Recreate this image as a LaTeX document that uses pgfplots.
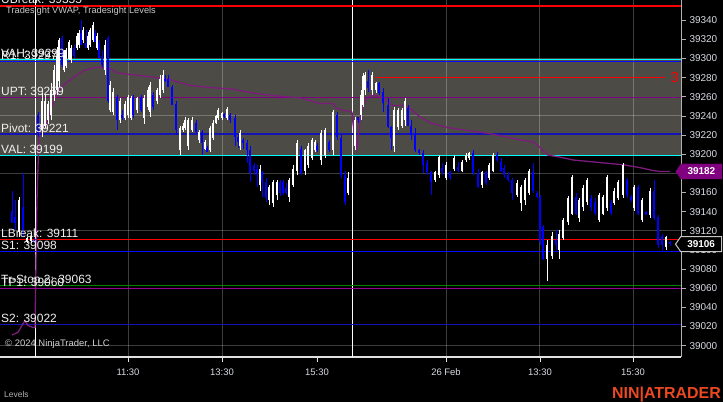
\documentclass[border=0pt]{standalone}
\usepackage{pgfplots}
\pgfplotsset{compat=1.18}
\usepackage{pgfplotstable}
\usepackage{fontspec}
\setmainfont{Liberation Sans}
\usetikzlibrary{shapes.symbols}

\definecolor{bandgray}{RGB}{77,75,69}
\definecolor{ntblue}{RGB}{10,10,255}
\definecolor{pivblue}{RGB}{20,20,180}
\definecolor{ntpurple}{RGB}{128,0,128}
\definecolor{vwapc}{RGB}{125,28,125}
\definecolor{tpc}{RGB}{150,0,150}
\definecolor{ntgreen}{RGB}{0,128,0}
\definecolor{ntcyan}{RGB}{0,255,255}
\definecolor{ntred}{RGB}{255,0,0}
\definecolor{ticktext}{RGB}{215,218,225}
\definecolor{logo}{RGB}{235,72,35}
\definecolor{candleblue}{RGB}{0,0,255}

\pgfplotstableread{
x hi lo top bot
19 39155 39113 39152 39119
27 39113 39107 39112 39108
31 39117 39107 39115 39109
42 39264 39218 39256 39225
45 39262 39227 39256 39230
48 39256 39232 39253 39236
51 39274 39236 39267 39241
54 39293 39256 39288 39262
57 39312 39262 39303 39267
59 39322 39270 39319 39277
64 39309 39286 39307 39288
66 39311 39290 39309 39292
69 39319 39298 39317 39300
71 39314 39295 39311 39298
77 39327 39309 39324 39311
79 39330 39311 39327 39314
83 39333 39316 39330 39319
88 39328 39309 39324 39311
90 39332 39312 39330 39314
93 39338 39317 39335 39319
97 39327 39309 39324 39311
105 39319 39283 39314 39288
110 39277 39244 39272 39246
113 39269 39241 39265 39244
120 39259 39233 39256 39236
125 39256 39236 39253 39238
128 39262 39238 39260 39241
131 39261 39236 39259 39238
137 39260 39243 39259 39246
144 39262 39232 39259 39238
148 39270 39246 39267 39249
150 39275 39239 39272 39244
157 39269 39253 39267 39256
160 39283 39259 39279 39262
163 39288 39264 39283 39267
180 39230 39199 39227 39204
183 39233 39223 39230 39225
185 39239 39225 39236 39227
188 39238 39204 39236 39209
192 39239 39223 39236 39225
199 39225 39212 39223 39215
205 39215 39204 39213 39206
210 39230 39202 39227 39204
213 39236 39215 39233 39217
216 39241 39232 39240 39233
218 39248 39236 39246 39238
222 39244 39236 39243 39238
227 39249 39236 39247 39238
240 39225 39204 39222 39209
260 39189 39162 39185 39168
269 39168 39147 39166 39152
273 39173 39145 39171 39149
277 39173 39152 39171 39157
289 39175 39150 39173 39155
293 39189 39166 39185 39168
297 39215 39178 39212 39183
305 39206 39178 39204 39183
308 39212 39186 39209 39189
312 39217 39194 39215 39196
315 39215 39202 39213 39204
321 39225 39189 39222 39194
325 39227 39196 39225 39199
333 39246 39199 39244 39204
348 39181 39157 39175 39159
355 39239 39204 39236 39209
361 39267 39236 39262 39241
363 39285 39249 39282 39251
365 39286 39262 39283 39267
372 39286 39262 39283 39267
376 39275 39264 39274 39267
394 39249 39202 39246 39209
398 39248 39225 39246 39228
402 39248 39227 39246 39230
405 39259 39230 39256 39236
435 39183 39171 39181 39173
439 39199 39175 39197 39178
446 39192 39173 39189 39175
454 39199 39183 39196 39185
462 39194 39181 39192 39183
466 39201 39192 39199 39194
469 39202 39194 39201 39196
482 39183 39165 39181 39168
489 39191 39173 39189 39175
493 39201 39181 39199 39183
517 39173 39155 39170 39157
521 39168 39141 39166 39149
525 39175 39147 39173 39152
529 39185 39157 39183 39160
547 39110 39068 39105 39091
552 39119 39091 39115 39094
559 39121 39091 39117 39100
563 39133 39110 39131 39112
568 39156 39126 39154 39129
572 39178 39136 39176 39138
579 39154 39129 39152 39133
583 39168 39141 39165 39145
587 39175 39147 39173 39150
599 39159 39129 39157 39131
603 39157 39136 39155 39138
607 39178 39141 39176 39144
614 39165 39147 39162 39149
618 39173 39152 39171 39154
623 39191 39154 39189 39157
634 39168 39141 39166 39144
642 39154 39129 39152 39131
650 39165 39133 39162 39136
666 39115 39100 39113 39103
}\upbars

\pgfplotstableread{
x hi lo top bot
12 39162 39128 39141 39128
15 39152 39121 39134 39128
23 39180 39113 39145 39121
34 39112 39107 39110 39108
38 39244 39218 39241 39222
62 39324 39291 39321 39293
74 39314 39301 39311 39303
81 39340 39314 39327 39314
86 39330 39311 39316 39311
95 39330 39317 39327 39317
99 39319 39301 39316 39301
102 39309 39291 39303 39293
108 39324 39254 39321 39256
117 39262 39225 39260 39236
122 39246 39236 39241 39238
133 39262 39238 39260 39241
141 39262 39244 39260 39246
153 39265 39246 39262 39249
165 39283 39275 39279 39277
168 39283 39270 39279 39270
172 39272 39251 39270 39251
176 39256 39220 39253 39225
196 39236 39222 39233 39223
202 39225 39199 39223 39212
207 39209 39202 39207 39202
224 39243 39238 39242 39239
230 39243 39233 39241 39236
235 39241 39209 39238 39218
238 39220 39207 39218 39213
243 39217 39206 39215 39212
247 39215 39191 39212 39204
250 39209 39171 39204 39180
254 39191 39178 39189 39183
257 39189 39166 39185 39180
262 39183 39155 39181 39171
266 39175 39150 39171 39154
280 39173 39156 39171 39159
283 39173 39157 39171 39159
286 39170 39157 39165 39159
301 39209 39178 39206 39180
317 39212 39202 39209 39204
329 39215 39202 39213 39204
337 39244 39215 39241 39218
341 39220 39175 39217 39178
345 39183 39147 39178 39150
358 39239 39233 39239 39236
368 39288 39265 39277 39269
379 39275 39262 39274 39264
383 39269 39244 39265 39254
388 39259 39227 39251 39228
391 39230 39204 39228 39217
408 39251 39230 39248 39230
411 39236 39215 39230 39220
415 39227 39202 39220 39204
419 39206 39199 39204 39201
423 39204 39180 39201 39189
427 39194 39178 39191 39181
431 39183 39157 39181 39171
442 39191 39178 39186 39181
450 39183 39173 39181 39175
458 39192 39181 39187 39183
473 39204 39178 39201 39180
478 39185 39165 39180 39166
486 39183 39168 39181 39170
497 39202 39192 39199 39194
501 39196 39181 39192 39183
504 39189 39175 39186 39178
508 39181 39171 39178 39173
512 39175 39152 39173 39159
533 39191 39160 39181 39162
537 39162 39154 39160 39155
540 39157 39105 39155 39108
543 39126 39089 39124 39091
556 39121 39100 39110 39105
576 39159 39136 39155 39138
591 39157 39141 39154 39145
595 39154 39136 39150 39139
611 39152 39136 39149 39139
627 39175 39154 39173 39157
631 39157 39150 39155 39152
638 39168 39136 39166 39138
646 39141 39136 39140 39137
654 39173 39131 39162 39133
658 39136 39102 39134 39105
662 39117 39100 39115 39105
670 39109 39104 39108 39106
}\downbars

\pgfplotstableread{
x p
12 39011
18 39014
22 39021
25 39026
28 39021
33 39019
35 39019
37 39152
39 39222
42 39227
47 39232
50 39244
53 39253
58 39267
62 39271
67 39275
77 39283
85 39288
92 39290
100 39291
107 39290
113 39288
117 39285
133 39283
150 39281
163 39279
170 39278
180 39275
190 39272
207 39270
220 39269
233 39268
253 39264
267 39262
287 39260
300 39259
320 39253
333 39253
337 39248
343 39246
350 39245
352 39244
353 39232
355 39218
357 39206
358 39218
360 39236
363 39252
368 39260
373 39262
380 39260
387 39256
393 39251
403 39251
410 39248
420 39239
430 39233
447 39228
467 39225
487 39222
507 39218
520 39215
533 39213
540 39207
548 39199
560 39197
573 39194
593 39192
623 39189
640 39186
653 39183
660 39182
670 39182
}\vwapdata

\newcommand{\lvl}[3][1.3bp]{\draw[#2, line width=#1] (axis cs:0,#3) -- (axis cs:681,#3);}
\newcommand{\lvltext}[2]{\node[anchor=base west, inner sep=0pt, text=white!94!black, font=\fontsize{12}{14}\selectfont] at (axis cs:1,#1) [yshift=2bp] {#2};}
\pgfplotsset{candle/.style={only marks, mark=*, mark size=0pt, mark options={draw=none, fill=none}, forget plot,
  error bars/.cd, y dir=minus, y explicit, error mark=none}}

\begin{document}
\begin{tikzpicture}
\fill[black] (0bp,0bp) rectangle (723bp,402bp);
\useasboundingbox (0bp,0bp) rectangle (723bp,402bp);
\begin{axis}[
  at={(0bp,45bp)}, anchor=south west,
  scale only axis, width=681bp, height=357bp,
  xmin=0, xmax=681, ymin=38988.1, ymax=39361.2,
  clip=false,
  axis x line*=bottom, axis y line*=right,
  x axis line style={draw=white!88!black, line width=1.2bp, -},
  y axis line style={draw=white!70!black, line width=1bp, -},
  scaled y ticks=false,
  /pgf/number format/assume math mode=true,
  /pgf/number format/1000 sep={},
  ytick={39000,39020,39040,39060,39080,39100,39120,39140,39160,39180,39200,39220,39240,39260,39280,39300,39320,39340},
  xtick={128,222,317,446,540,633},
  xticklabels={11:30,13:30,15:30,26 Feb,13:30,15:30},
  tick align=outside,
  major tick length=5bp,
  ytick style={draw=white!70!black, line width=0.8bp},
  xtick style={draw=white!88!black, line width=0.8bp},
  yticklabel style={text=ticktext, font=\fontsize{10}{12}\selectfont, anchor=west, xshift=0bp},
  xticklabel style={text=ticktext, font=\fontsize{9.5}{11}\selectfont, anchor=north, yshift=-3bp},
]
% value area band
\fill[bandgray] (axis cs:0,39199) rectangle (axis cs:681,39299);
% grid
\pgfplotsinvokeforeach{39000,39060,39120,39180,39240,39300}{
  \draw[white, opacity=0.24, line width=1bp] (axis cs:0,#1) -- (axis cs:681,#1);
}
\pgfplotsinvokeforeach{128,222,446,539,633}{
  \draw[white, opacity=0.24, line width=1bp] (axis cs:#1,38988.1) -- (axis cs:#1,39361.2);
}
% session breaks
\draw[white, line width=1bp] (axis cs:35,38988.1) -- (axis cs:35,39361.2);
\draw[white, line width=1bp] (axis cs:352,38988.1) -- (axis cs:352,39361.2);
% levels
\lvl[1.6bp]{ntred}{39355}
\lvl{ntcyan}{39299}
\lvl{ntblue}{39297}
\lvl{ntpurple}{39259}
\lvl{pivblue}{39221}
\lvl{ntcyan}{39199}
\lvl{ntred}{39111}
\lvl{ntblue}{39098}
\lvl{ntgreen}{39063}
\lvl{tpc}{39060}
\lvl{pivblue}{39022}
\draw[ntred, line width=1bp] (axis cs:375,39280) -- (axis cs:665,39280);
\node[anchor=west, inner sep=0pt, text=ntred, font=\fontsize{14.5}{15}\selectfont] at (axis cs:670.5,39280) {3};
% VWAP
\addplot[vwapc, line width=1.3bp, forget plot] table[x=x, y=p] {\vwapdata};
% candles
\addplot[white, candle, error bar style={draw=white, line width=1bp}]
  table[x=x, y=hi, y error minus expr=\thisrow{hi}-\thisrow{lo}] {\upbars};
\addplot[white, candle, error bar style={draw=white, line width=2.4bp}]
  table[x=x, y=top, y error minus expr=\thisrow{top}-\thisrow{bot}] {\upbars};
\addplot[candleblue, candle, error bar style={draw=candleblue, line width=1bp}]
  table[x=x, y=hi, y error minus expr=\thisrow{hi}-\thisrow{lo}] {\downbars};
\addplot[candleblue, candle, error bar style={draw=candleblue, line width=2.4bp}]
  table[x=x, y=top, y error minus expr=\thisrow{top}-\thisrow{bot}] {\downbars};
% level labels
\lvltext{39355}{UBreak: 39355}
\lvltext{39299}{VAH: 39299}
\lvltext{39297}{R1: 39297}
\lvltext{39259}{UPT: 39259}
\lvltext{39221}{Pivot: 39221}
\lvltext{39199}{VAL: 39199}
\lvltext{39111}{LBreak: 39111}
\lvltext{39098}{S1: 39098}
\lvltext{39063}{Tr-Stop 2: 39063}
\lvltext{39060}{TP1: 39060}
\lvltext{39022}{S2: 39022}
% price tags
\node[signal, signal to=west, signal pointer angle=110, fill=ntpurple, draw=ntpurple,
  minimum height=15bp, minimum width=46bp, inner sep=1bp, anchor=east,
  text=white, font=\bfseries\fontsize{10}{12}\selectfont] at (axis cs:722,39182) {39182};
\node[signal, signal to=west, signal pointer angle=110, fill=black, draw=white!78!black, line width=1bp,
  minimum height=15bp, minimum width=46bp, inner sep=1bp, anchor=east,
  text=white, font=\bfseries\fontsize{10}{12}\selectfont] at (axis cs:722,39106) {39106};
\end{axis}
\node[anchor=base west, inner sep=0pt, text=white!78!black, font=\fontsize{9.3}{11}\selectfont] at (6bp,388bp) {Tradesight VWAP, Tradesight Levels};
\node[anchor=base west, inner sep=0pt, text=white!82!black, font=\fontsize{9.5}{11}\selectfont] at (5bp,55bp) {\textcopyright{} 2024 NinjaTrader, LLC};
\node[anchor=base west, inner sep=0pt, text=white!70!black, font=\fontsize{8.5}{10}\selectfont] at (4bp,5bp) {Levels};
\node[anchor=base east, inner sep=0pt, text=logo, font=\bfseries\fontsize{16}{18}\selectfont] at (721bp,4bp) {NIN|ATRADER};
\end{tikzpicture}
\end{document}
